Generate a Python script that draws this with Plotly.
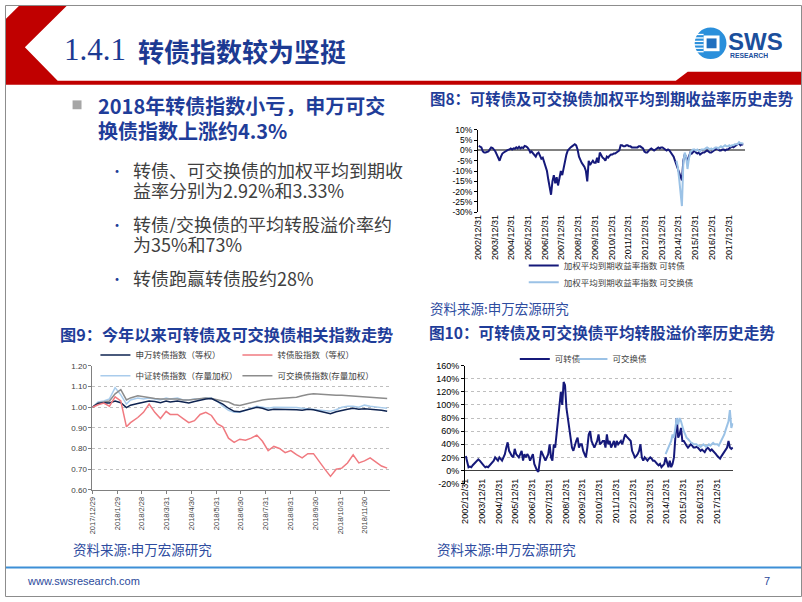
import plotly.graph_objects as go
import pandas as pd

W, H = 802, 602
def X(p): return p / W
def Y(p): return 1 - p / H

CJK = "Noto Sans CJK SC"
TITLE_BLUE = "#1C3A92"
NAVY = "#15197A"
LIGHT = "#9BC2E6"

# ---------------- Chart 8: weighted average YTM (monthly, %) ----------------
ytm_cb = [
    2.2, 2.0, 1.5, -0.5, -1.0, -1.0, -0.8, -0.5, 0.5, 1.5, 1.2, 0.5,          # 2003
    -0.5, -2.0, -3.5, -5.0, -3.0, -1.5, -1.0, -0.5, 0.0, 0.3, 0.5, 1.0,       # 2004
    0.5, 1.0, 0.8, 1.5, 1.0, 1.8, 1.0, 1.5, 1.2, 2.2, 2.0, 1.5,               # 2005
    0.5, -1.0, -0.5, -1.5, -2.5, -3.0, -1.5, -1.0, -2.5, -4.0, -3.5, -6.0,    # 2006
    -8.0, -10.0, -14.0, -18.0, -21.5, -15.0, -12.0, -16.0, -13.0, -17.0, -14.0, -10.0,  # 2007
    -12.0, -8.0, -5.0, -2.0, 0.0, 1.0, 1.5, 2.0, 2.5, 3.0, 2.5, 0.5,          # 2008
    -3.0, -5.0, -6.0, -7.0, -8.0, -10.0, -15.0, -5.0, -7.0, -6.0, -5.0, -6.0, # 2009
    -6.0, -3.5, -6.0, -1.0, -2.5, -3.5, -4.0, -5.0, -3.0, -3.5, -2.5, -2.0,   # 2010
    -2.0, -1.5, -1.5, -1.0, -0.5, 0.0, 2.5, 2.5, 2.0, 2.0, 2.5, 2.5,          # 2011
    2.0, 2.0, 1.5, 1.5, 1.5, 1.8, 1.5, 2.0, 2.0, 1.5, 1.0, -0.5,              # 2012
    -1.0, -1.0, 0.0, 0.5, 1.0, 0.5, 0.0, 0.5, 1.0, 1.5, 1.0, 1.5,             # 2013
    1.5, 1.0, 0.5, 0.0, 0.5, 0.0, -1.0, -2.0, -3.0, -5.0, -7.0, -9.0,         # 2014
    -10.0, -12.0, -14.5, -5.0, -2.0, -3.0, -6.0, -3.0, -1.0, -1.5, -0.5, 0.0, # 2015
    -1.0, -1.5, -1.0, -2.0, -1.5, -1.0, -1.0, -0.5, 0.0, -0.5, -1.0, -1.0,    # 2016
    -0.5, 0.0, 0.5, 1.0, 0.5, 0.0, 0.0, 0.5, 0.5, 0.0, 0.5, 0.5,              # 2017
    1.0, 1.5, 2.0, 1.5, 2.0, 2.5, 3.0, 3.5, 2.5, 3.0, 2.9,                    # 2018
]
ytm_eb = [
    -5.0, -8.0,                                                               # 2014 Nov-Dec
    -14.0, -20.0, -27.0, -6.0, -1.0, -3.0, -9.0, -4.0, -1.0, 0.0, 0.5, 0.5,   # 2015
    0.0, 0.5, 0.0, -0.5, 0.5, 0.5, 0.5, 1.0, 1.5, 1.0, 0.5, 1.0,              # 2016
    0.5, 1.0, 1.5, 1.5, 1.0, 1.5, 2.0, 1.5, 2.0, 2.5, 2.0, 2.0,               # 2017
    2.5, 2.0, 2.5, 2.5, 3.0, 3.0, 3.0, 4.0, 3.5, 3.5, 3.3,                    # 2018
]
ytm_cb_dates = pd.date_range("2003-01-01", periods=len(ytm_cb), freq="MS") + pd.Timedelta(days=14)
ytm_eb_dates = pd.date_range("2014-11-01", periods=len(ytm_eb), freq="MS") + pd.Timedelta(days=14)

year_ticks = [f"{y}-12-31" for y in range(2002, 2018)]
year_labels = [f"{y}/12/31" for y in range(2002, 2018)]

# ---------------- Chart 10: average conversion premium (monthly, %) ----------------
prem_cb = [
    22, 10, 5, 6, 5, 8, 10, 13, 15, 17, 15, 12,          # 2003
    10, 7, 5, 6, 5, 8, 10, 12, 15, 20, 18, 15,           # 2004
    20, 18, 15, 20, 25, 35, 43, 30, 25, 22, 20, 33,      # 2005
    25, 22, 20, 25, 30, 15, 25, 20, 25, 22, 15, 20,      # 2006
    25, 10, 5, 0, -2, 15, 30, 25, 20, 15, 20, 25,        # 2007
    40, 20, 15, 40, 35, 55, 80, 100, 120, 100, 135, 130, # 2008
    95, 80, 65, 55, 35, 30, 40, 45, 50, 35, 40, 40,      # 2009
    30, 25, 20, 35, 55, 60, 45, 40, 35, 40, 45, 55,      # 2010
    40, 42, 45, 45, 35, 55, 40, 45, 35, 40, 45, 35,      # 2011
    45, 40, 42, 45, 40, 50, 55, 52, 50, 48, 45, 30,      # 2012
    25, 20, 22, 25, 30, 40, 20, 15, 20, 18, 15, 18,      # 2013
    20, 18, 15, 15, 12, 10, 8, 10, 5, 8, 10, 20,         # 2014
    10, 5, 15, 5, 10, 20, 50, 80, 50, 55, 65, 45,        # 2015
    45, 40, 38, 35, 38, 40, 38, 35, 35, 36, 35, 33,      # 2016
    30, 32, 30, 28, 32, 35, 33, 30, 32, 30, 28, 25,      # 2017
    22, 20, 18, 22, 25, 30, 32, 35, 45, 35, 33, 35,      # 2018
]
prem_eb = [
    25,                                                  # 2014 Dec
    30, 35, 40, 45, 55, 50, 65, 80, 70, 80, 75, 65,      # 2015
    60, 55, 50, 48, 45, 43, 42, 40, 40, 40, 38, 38,      # 2016
    36, 38, 40, 38, 36, 38, 40, 38, 40, 42, 40, 40,      # 2017
    40, 38, 42, 45, 50, 55, 62, 70, 75, 92, 65, 72,      # 2018
]
prem_cb_dates = pd.date_range("2003-01-01", periods=len(prem_cb), freq="MS") + pd.Timedelta(days=14)
prem_eb_dates = pd.date_range("2014-12-01", periods=len(prem_eb), freq="MS") + pd.Timedelta(days=14)

# ---------------- Chart 9: 2018 indices (weekly) ----------------
week_dates = ['2017-12-29', '2018-01-05', '2018-01-12', '2018-01-19', '2018-01-26', '2018-02-02',
              '2018-02-09', '2018-02-14', '2018-02-23', '2018-03-02', '2018-03-09', '2018-03-16',
              '2018-03-23', '2018-03-30', '2018-04-04', '2018-04-13', '2018-04-20', '2018-04-27',
              '2018-05-04', '2018-05-11', '2018-05-18', '2018-05-25', '2018-06-01', '2018-06-08',
              '2018-06-15', '2018-06-22', '2018-06-29', '2018-07-06', '2018-07-13', '2018-07-20',
              '2018-07-27', '2018-08-03', '2018-08-10', '2018-08-17', '2018-08-24', '2018-08-31',
              '2018-09-07', '2018-09-14', '2018-09-21', '2018-09-28', '2018-10-12', '2018-10-19',
              '2018-10-26', '2018-11-02', '2018-11-09', '2018-11-16', '2018-11-23', '2018-11-30',
              '2018-12-07', '2018-12-14', '2018-12-21', '2018-12-28']
sw_cb_index = [1.000, 1.018, 1.022, 1.020, 1.030, 1.022, 0.998, 1.010, 1.018, 1.025,
               1.030, 1.028, 1.022, 1.030, 1.025, 1.030, 1.025, 1.020, 1.028, 1.035,
               1.040, 1.042, 1.030, 1.015, 0.995, 0.980, 0.978, 0.985, 0.990, 1.000,
               0.995, 0.985, 0.990, 0.990, 0.988, 0.990, 0.988, 0.985, 0.990, 0.988,
               0.975, 0.968, 0.978, 0.985, 0.990, 0.995, 0.990, 0.992, 0.990, 0.988,
               0.985, 0.980]
cb_stock_index = [1.000, 1.012, 1.020, 1.005, 1.050, 1.030, 0.905, 0.925, 0.950, 0.975,
                  1.015, 0.975, 0.945, 0.980, 0.965, 0.965, 0.945, 0.925, 0.935, 0.965,
                  0.975, 0.960, 0.920, 0.905, 0.850, 0.830, 0.845, 0.840, 0.850, 0.865,
                  0.835, 0.790, 0.810, 0.800, 0.780, 0.790, 0.770, 0.755, 0.775, 0.775,
                  0.700, 0.665, 0.700, 0.705, 0.730, 0.770, 0.730, 0.740, 0.755, 0.735,
                  0.715, 0.705]
csi_cb_index = [1.000, 1.025, 1.030, 1.040, 1.095, 1.060, 1.015, 1.035, 1.045, 1.040,
                1.045, 1.040, 1.035, 1.045, 1.040, 1.045, 1.035, 1.035, 1.040, 1.040,
                1.045, 1.045, 1.030, 1.005, 0.985, 0.975, 0.975, 0.985, 0.995, 1.005,
                1.000, 0.995, 1.000, 1.000, 0.998, 1.000, 0.998, 0.995, 0.992, 0.990,
                0.985, 0.980, 0.988, 1.000, 1.005, 1.005, 1.000, 1.010, 1.005, 1.000,
                0.998, 0.995]
eb_index = [1.000, 1.020, 1.025, 1.030, 1.065, 1.085, 1.035, 1.045, 1.055, 1.050,
            1.045, 1.042, 1.040, 1.042, 1.040, 1.040, 1.035, 1.035, 1.038, 1.040,
            1.045, 1.042, 1.035, 1.030, 1.025, 1.012, 1.008, 1.015, 1.020, 1.028,
            1.035, 1.038, 1.040, 1.040, 1.042, 1.045, 1.048, 1.055, 1.062, 1.065,
            1.060, 1.058, 1.058, 1.058, 1.056, 1.055, 1.052, 1.050, 1.048, 1.046,
            1.042, 1.042]
month_ticks = ['2017-12-29', '2018-01-29', '2018-02-28', '2018-03-31', '2018-04-30', '2018-05-31',
               '2018-06-30', '2018-07-31', '2018-08-31', '2018-09-30', '2018-10-31', '2018-11-30']
month_labels = ['2017/12/29', '2018/1/29', '2018/2/28', '2018/3/31', '2018/4/30', '2018/5/31',
                '2018/6/30', '2018/7/31', '2018/8/31', '2018/9/30', '2018/10/31', '2018/11/30']

fig = go.Figure()

# Chart 8 traces
fig.add_trace(go.Scatter(x=ytm_cb_dates, y=ytm_cb, mode="lines", name="加权平均到期收益率指数 可转债",
                         line=dict(color=NAVY, width=2), xaxis="x", yaxis="y", legend="legend"))
fig.add_trace(go.Scatter(x=ytm_eb_dates, y=ytm_eb, mode="lines", name="加权平均到期收益率指数 可交换债",
                         line=dict(color=LIGHT, width=2), xaxis="x", yaxis="y", legend="legend2"))
# Chart 10 traces
fig.add_trace(go.Scatter(x=prem_cb_dates, y=prem_cb, mode="lines", name="可转债",
                         line=dict(color=NAVY, width=2), xaxis="x3", yaxis="y3", legend="legend3"))
fig.add_trace(go.Scatter(x=prem_eb_dates, y=prem_eb, mode="lines", name="可交换债",
                         line=dict(color=LIGHT, width=2), xaxis="x3", yaxis="y3", legend="legend6"))
# Chart 9 traces
fig.add_trace(go.Scatter(x=week_dates, y=csi_cb_index, mode="lines", name="中证转债指数（存量加权）",
                         line=dict(color="#A9CCEC", width=1.5), xaxis="x2", yaxis="y2", legend="legend5"))
fig.add_trace(go.Scatter(x=week_dates, y=eb_index, mode="lines", name="可交换债指数(存量加权）",
                         line=dict(color="#8C8C8C", width=1.5), xaxis="x2", yaxis="y2", legend="legend5"))
fig.add_trace(go.Scatter(x=week_dates, y=sw_cb_index, mode="lines", name="申万转债指数（等权）",
                         line=dict(color="#0E2350", width=1.5), xaxis="x2", yaxis="y2", legend="legend4"))
fig.add_trace(go.Scatter(x=week_dates, y=cb_stock_index, mode="lines", name="转债股指数（等权）",
                         line=dict(color="#F07A80", width=1.5), xaxis="x2", yaxis="y2", legend="legend4"))

leg_font = dict(family=CJK, size=8.5, color="#404040")
def leg(x, y, **kw):
    d = dict(x=X(x), y=Y(y), xanchor="left", yanchor="middle", bgcolor="rgba(0,0,0,0)",
             borderwidth=0, font=leg_font)
    d.update(kw)
    return d

axis_font = dict(family="Arial, Liberation Sans", color="#000000")

fig.update_layout(
    width=W, height=H, margin=dict(l=0, r=0, t=0, b=0),
    paper_bgcolor="white", plot_bgcolor="rgba(0,0,0,0)",
    font=dict(family="Arial, Liberation Sans", size=9, color="#000"),
    showlegend=True,
    legend=leg(522, 265),
    legend2=leg(522, 282),
    legend3=leg(513, 360),
    legend6=leg(571, 360),
    legend4=leg(91, 356, orientation="h", entrywidth=97),
    legend5=leg(91, 377, orientation="h", entrywidth=97),
    xaxis=dict(domain=[X(476), X(745)], anchor="y", type="date",
               range=["2002-12-31", "2018-12-31"], tickmode="array",
               tickvals=year_ticks, ticktext=year_labels, tickangle=-90,
               tickfont=dict(size=9, **axis_font), showgrid=False, showline=False,
               zeroline=False, ticks=""),
    yaxis=dict(domain=[Y(210.7), Y(127)], anchor="x", range=[-30, 10],
               tickmode="array", tickvals=list(range(-30, 11, 5)),
               ticktext=[f"{v}%" for v in range(-30, 11, 5)],
               tickfont=dict(size=8.5, **axis_font), showline=True, linecolor="#000",
               linewidth=1, ticks="outside", ticklen=3, tickcolor="#000", showgrid=False,
               zeroline=True, zerolinecolor="#808080", zerolinewidth=2),
    xaxis2=dict(domain=[X(88), X(387)], anchor="y2", type="date",
                range=["2017-12-29", "2018-12-31"], tickmode="array",
                tickvals=month_ticks, ticktext=month_labels, tickangle=-90,
                tickfont=dict(size=7.5, family="Arial, Liberation Sans", color="#404040"),
                showgrid=False, showline=True, linecolor="#808080", linewidth=1,
                ticks="outside", ticklen=3, tickcolor="#808080", zeroline=False),
    yaxis2=dict(domain=[Y(493), Y(367)], anchor="x2", range=[0.6, 1.2],
                tickmode="linear", tick0=0.6, dtick=0.1, tickformat=".2f",
                tickfont=dict(size=8, family="Arial, Liberation Sans", color="#404040"),
                showline=True, linecolor="#808080", ticks="outside", ticklen=3,
                tickcolor="#808080", showgrid=True, gridcolor="#BFBFBF", griddash="dot",
                zeroline=False),
    xaxis3=dict(domain=[X(463), X(733)], anchor="free", position=Y(479), type="date",
                range=["2002-12-31", "2018-12-31"], tickmode="array",
                tickvals=year_ticks, ticktext=year_labels, tickangle=-90,
                tickfont=dict(size=9, **axis_font), showgrid=False, showline=False,
                zeroline=False, ticks=""),
    yaxis3=dict(domain=[Y(486.7), Y(366.7)], anchor="x3", range=[-20, 160],
                tickmode="array", tickvals=list(range(-20, 161, 20)),
                ticktext=[f"{v}%" for v in range(-20, 161, 20)],
                tickfont=dict(size=9, **axis_font), showline=True, linecolor="#000",
                ticks="outside", ticklen=3, tickcolor="#000", showgrid=True,
                gridcolor="#BFBFBF", griddash="dot", zeroline=True,
                zerolinecolor="#404040", zerolinewidth=1),
)

# ---------------- Shapes (slide decoration) ----------------
def path(points):
    s = "M " + " L ".join(f"{X(px):.5f},{Y(py):.5f}" for px, py in points) + " Z"
    return s

shapes = []
shapes.append(dict(type="path", xref="paper", yref="paper", line=dict(width=0), fillcolor="#C00000",
                   path=path([(15, 0), (63, 0), (20, 43), (53, 77), (675, 77), (687, 68),
                              (802, 68), (802, 81), (0, 81), (0, 15)])))
shapes.append(dict(type="line", xref="paper", yref="paper", x0=0, x1=1, y0=Y(572), y1=Y(572),
                   line=dict(color="#3D8FD6", width=2)))
shapes.append(dict(type="rect", xref="paper", yref="paper", x0=X(68), x1=X(77), y0=Y(106), y1=Y(97),
                   line=dict(width=0), fillcolor="#A6A6A6"))
shapes.append(dict(type="circle", xref="paper", yref="paper", x0=X(694), x1=X(726), y0=Y(55), y1=Y(23),
                   line=dict(width=0), fillcolor="#2A8FDB"))
shapes.append(dict(type="rect", xref="paper", yref="paper", x0=X(703), x1=X(719), y0=Y(47), y1=Y(31),
                   line=dict(width=0), fillcolor="white"))
shapes.append(dict(type="rect", xref="paper", yref="paper", x0=X(706), x1=X(716), y0=Y(44), y1=Y(34),
                   line=dict(width=0), fillcolor="#1F6FBF"))
for yy in (30, 33.5, 37, 40.5, 44, 47.5):
    shapes.append(dict(type="line", xref="paper", yref="paper", x0=X(693), x1=X(703), y0=Y(yy), y1=Y(yy),
                       line=dict(color="white", width=1.3)))
shapes.append(dict(type="rect", xref="paper", yref="paper", x0=X(0.5), x1=X(801.5), y0=Y(601.5), y1=Y(0.5),
                   line=dict(color="#8C8C8C", width=1), fillcolor="rgba(0,0,0,0)"))
fig.update_layout(shapes=shapes)

# ---------------- Annotations (text) ----------------
ann = []
def text(x, y, t, size, color, family=CJK, anchor="left", h=None):
    a = dict(xref="paper", yref="paper", x=X(x), y=Y(y), text=t, showarrow=False,
             xanchor=anchor, yanchor="middle", font=dict(family=family, size=size, color=color))
    if h is not None:
        a["height"] = h
    ann.append(a)

text(57, 45, "1.4.1", 31, TITLE_BLUE, family="Liberation Serif")
text(132, 46, "<b>转债指数较为坚挺</b>", 26, TITLE_BLUE)

HEAD = "#1F3D99"
text(92, 102, "<b>2018年转债指数小亏，申万可交</b>", 20, HEAD, h=22)
text(92, 127, "<b>换债指数上涨约4.3%</b>", 20, HEAD, h=22)
BODY = "#404040"
for yb in (168, 223, 278):
    text(104, yb, "•", 14, "#1F3D99", h=16)
text(127, 168, "转债、可交换债的加权平均到期收", 18, BODY, h=18)
text(127, 188, "益率分别为2.92%和3.33%", 18, BODY, h=18)
text(127, 223, "转债/交换债的平均转股溢价率约", 18, BODY, h=18)
text(127, 243, "为35%和73%", 18, BODY, h=18)
text(127, 278, "转债跑赢转债股约28%", 18, BODY, h=18)

text(426, 95, "<b>图8：可转债及可交换债加权平均到期收益率历史走势</b>", 15.4, HEAD)
text(53, 335, "<b>图9：今年以来可转债及可交换债相关指数走势</b>", 16.2, HEAD)
text(425, 333, "<b>图10：可转债及可交换债平均转股溢价率历史走势</b>", 15.6, HEAD)

SRC = "#2E4C9F"
text(426, 308, "资料来源:申万宏源研究", 13.5, SRC)
text(66, 553, "资料来源:申万宏源研究", 13.5, SRC)
text(433, 553, "资料来源:申万宏源研究", 13.5, SRC)

text(20, 586, "www.swsresearch.com", 11, "#2B4A9B", family="Arial, Liberation Sans")
text(762, 586, "7", 11, "#2B4A9B", family="Arial, Liberation Sans")

text(726, 37, "<b>SWS</b>", 24, "#1B4F9C", family="Arial, Liberation Sans", h=20)
text(728, 51.5, "<b>RESEARCH</b>", 6.8, "#1B4F9C", family="Arial, Liberation Sans", h=7)

fig.update_layout(annotations=ann)

fig.write_html("out.html", config={"displayModeBar": False},
               post_script="document.body.style.margin='0px';document.body.style.overflow='hidden';")
